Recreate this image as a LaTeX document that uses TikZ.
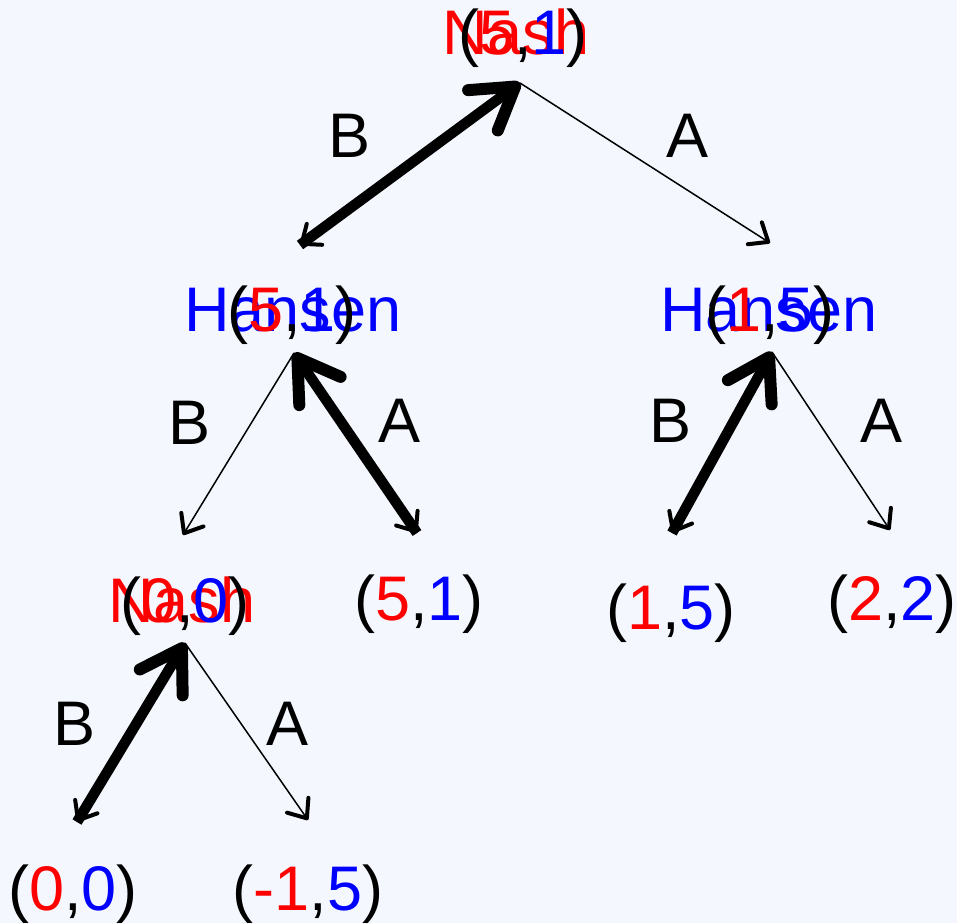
\documentclass[tikz,border=0pt]{standalone}
\usepackage{fontspec}
\setmainfont{Liberation Sans}
\usetikzlibrary{arrows.meta}
\definecolor{bg}{HTML}{F4F8FE}
\definecolor{pr}{HTML}{FF0000}
\definecolor{pb}{HTML}{0000FF}
\tikzset{
  lbl/.style={anchor=base, inner sep=0pt, font=\fontsize{63}{75}\selectfont},
  thinarrow/.style={line width=1.5pt, -{Straight Barb[length=16pt,width=26pt,line width=4pt,round]}},
  thickarrow/.style={line width=10.5pt, -{Straight Barb[length=40pt,width=50pt,line width=12pt,round]}},
}
\begin{document}
\begin{tikzpicture}[x=1pt,y=-1pt]
\fill[bg] (0,0) rectangle (957,923);
\useasboundingbox (0,0) rectangle (957,923);

% decision points (apexes) and arrow tips
\coordinate (r) at (520,83);
\coordinate (hl) at (294,353);
\coordinate (hr) at (772,352);
\coordinate (nl) at (185,643);
\coordinate (thl) at (300,245);
\coordinate (thr) at (770,243);
\coordinate (tnl) at (183,535);
\coordinate (t51) at (417,533);
\coordinate (t15) at (672,533);
\coordinate (t22) at (890,530);
\coordinate (t00) at (77,822);
\coordinate (tm15) at (308,820);

% node labels
\node[lbl, text=pr] (rn) at (516,55) {Nash};
\node[lbl] (rp) at (523,55) {(\textcolor{pr}{5},\textcolor{pb}{1})};
\node[lbl, text=pb] (hln) at (293,331) {Hansen};
\node[lbl] (hlp) at (292,331) {(\textcolor{pr}{5},\textcolor{pb}{1})};
\node[lbl, text=pb] (hrn) at (769,331) {Hansen};
\node[lbl] (hrp) at (770,331) {(\textcolor{pr}{1},\textcolor{pb}{5})};
\node[lbl, text=pr] (nln) at (182,622) {Nash};
\node[lbl] (nlp) at (185,622) {(\textcolor{pr}{0},\textcolor{pb}{0})};

% leaves
\node[lbl] (l51) at (419,620) {(\textcolor{pr}{5},\textcolor{pb}{1})};
\node[lbl] (l15) at (671,629) {(\textcolor{pr}{1},\textcolor{pb}{5})};
\node[lbl] (l22) at (892,620) {(\textcolor{pr}{2},\textcolor{pb}{2})};
\node[lbl] (l00) at (73,910) {(\textcolor{pr}{0},\textcolor{pb}{0})};
\node[lbl] (lm15) at (308,910) {(\textcolor{pr}{-1},\textcolor{pb}{5})};

% edge labels
\node[lbl] (e1) at (350,157) {B};
\node[lbl] (e2) at (687,157) {A};
\node[lbl] (e3) at (190,444) {B};
\node[lbl] (e4) at (400,442) {A};
\node[lbl] (e5) at (670,442) {B};
\node[lbl] (e6) at (881,442) {A};
\node[lbl] (e7) at (75,745) {B};
\node[lbl] (e8) at (288,745) {A};

% thin arrows (moves)
\draw[thinarrow] (r) -- (thl);
\draw[thinarrow] (r) -- (thr);
\draw[thinarrow] (hl) -- (tnl);
\draw[thinarrow] (hl) -- (t51);
\draw[thinarrow] (hr) -- (t15);
\draw[thinarrow] (hr) -- (t22);
\draw[thinarrow] (nl) -- (t00);
\draw[thinarrow] (nl) -- (tm15);

% thick arrows (backward induction)
\draw[thickarrow] (thl) -- (r);
\draw[thickarrow] (t51) -- (hl);
\draw[thickarrow] (t15) -- (hr);
\draw[thickarrow] (t00) -- (nl);
\end{tikzpicture}
\end{document}
